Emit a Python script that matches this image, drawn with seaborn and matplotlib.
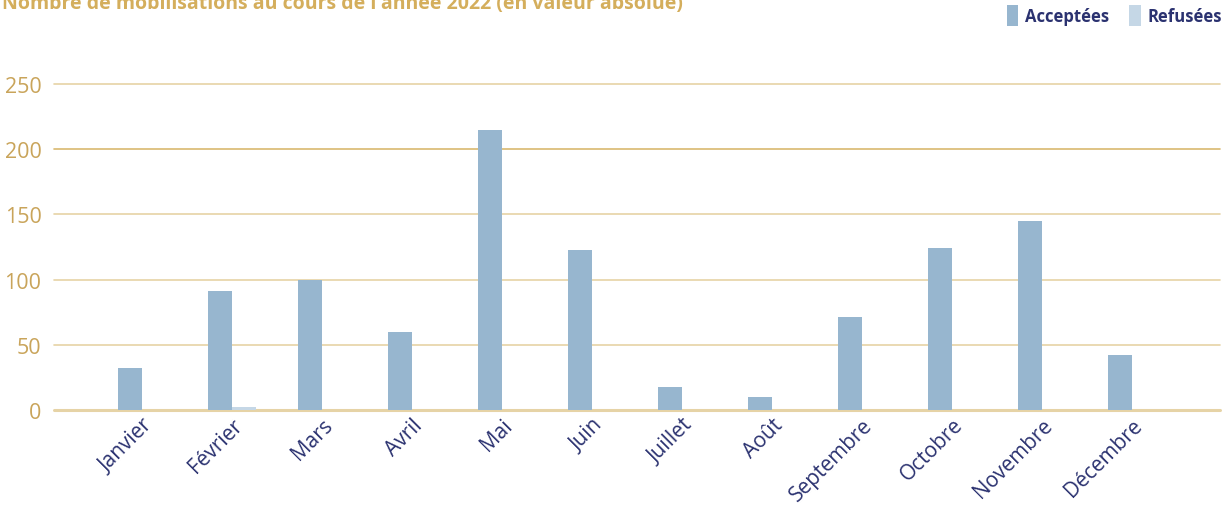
import matplotlib
matplotlib.use('Agg')
from matplotlib import pyplot as plt
import pandas as pd
import seaborn as sns

# données
mois = ['Janvier', 'Février', 'Mars', 'Avril', 'Mai', 'Juin', 'Juillet',
        'Août', 'Septembre', 'Octobre', 'Novembre', 'Décembre']
acceptees = [32, 91, 100, 60, 215, 123, 18, 10, 71, 124, 145, 42]
refusees = [0, 2, 0, 0, 0, 0, 0, 0, 0, 0, 0, 0]
yticks = [0, 50, 100, 150, 200, 250]

gold = '#c9a45a'
navy = '#2b3270'

df = pd.DataFrame({'mois': mois * 2,
                   'valeur': acceptees + refusees,
                   'statut': ['Acceptées'] * 12 + ['Refusées'] * 12})

sns.set_style('white')
plt.rcParams['font.family'] = ['Open Sans', 'DejaVu Sans']

fig = plt.figure(figsize=(12.22, 5.06), dpi=100)
ax = fig.add_axes([54 / 1222, 1 - 411 / 506, 1166 / 1222, 326 / 506])

sns.barplot(data=df, x='mois', y='valeur', hue='statut', order=mois,
            palette=['#97b6cf', '#c5d7e6'], width=0.54, gap=0,
            saturation=1, linewidth=0, ax=ax, zorder=3)

ax.set_ylim(0, 250)
ax.set_xlim(-0.98, 11.98)
ax.set_yticks(yticks)
ax.set_xlabel('')
ax.set_ylabel('')
for y in yticks:
    c = '#d9b970' if y == 200 else '#e6d3a6'
    ax.axhline(y, color=c, lw=1.2 if y else 2.2, zorder=1, clip_on=False)
for s in ax.spines.values():
    s.set_visible(False)
ax.tick_params(axis='y', length=0, pad=9, labelsize=15.5, labelcolor=gold)
ax.tick_params(axis='x', length=0, pad=3, labelsize=15, labelcolor=navy)
plt.setp(ax.get_xticklabels(), rotation=45, ha='right', rotation_mode='anchor')

ax.legend(loc='upper right', bbox_to_anchor=(1222 / 1222, 1 - 6 / 506),
          bbox_transform=fig.transFigure, ncol=2, frameon=False,
          handlelength=0.7, handleheight=1.6, handletextpad=0.4,
          columnspacing=1.2, borderaxespad=0, borderpad=0,
          prop={'weight': 'bold', 'size': 12}, labelcolor=navy)

fig.text(0.002, 1 - 9 / 506, "Nombre de mobilisations au cours de l'année 2022 (en valeur absolue)",
         color='#d4ae5c', fontsize=14, fontweight='bold', va='baseline', ha='left')

fig.savefig('out.png', dpi=100)
